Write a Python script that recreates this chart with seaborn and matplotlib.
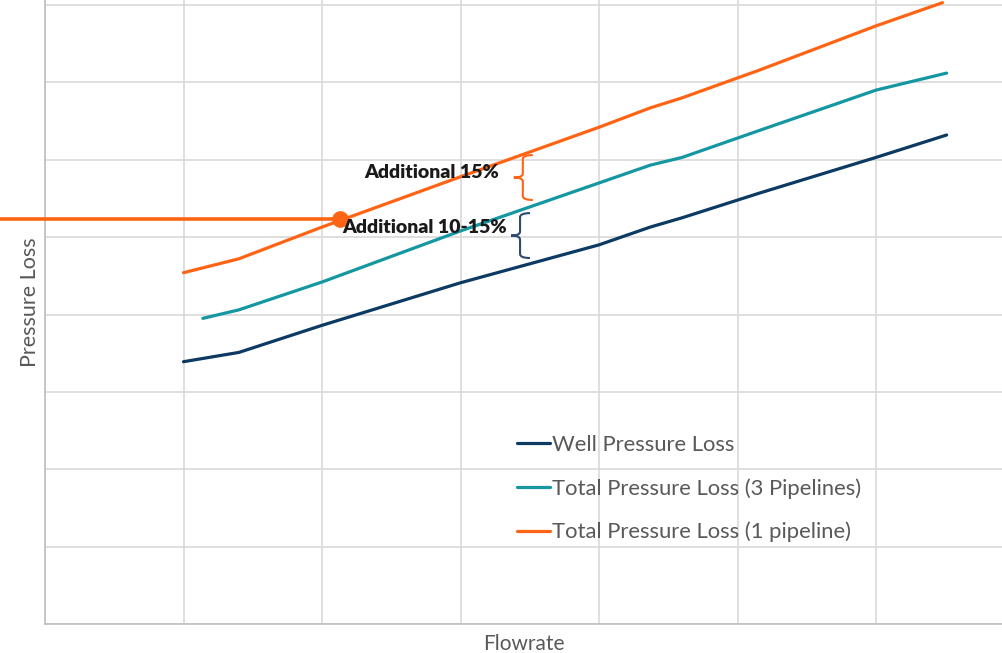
import numpy as np
import pandas as pd
import matplotlib
matplotlib.use("Agg")
import matplotlib.pyplot as plt
from matplotlib.path import Path
from matplotlib.patches import PathPatch
import seaborn as sns

# Flowrate / pressure-loss readings for each curve (arbitrary units)
well_x = [1.0, 1.4, 2.0, 3.0, 4.0, 4.37, 4.6, 5.16, 6.0, 6.51]
well_y = [3.39, 3.51, 3.86, 4.41, 4.90, 5.13, 5.25, 5.57, 6.03, 6.32]

pipes3_x = [1.14, 1.4, 2.0, 3.0, 4.0, 4.37, 4.6, 5.16, 6.0, 6.51]
pipes3_y = [3.95, 4.06, 4.42, 5.08, 5.70, 5.93, 6.03, 6.38, 6.90, 7.12]

pipe1_x = [1.0, 1.4, 2.0, 3.0, 4.0, 4.37, 4.6, 5.16, 6.0, 6.48]
pipe1_y = [4.54, 4.72, 5.13, 5.78, 6.42, 6.67, 6.80, 7.16, 7.73, 8.03]

series_names = [
    "Well Pressure Loss",
    "Total Pressure Loss (3 Pipelines)",
    "Total Pressure Loss (1 pipeline)",
]
series_colors = ["#0C3A63", "#1497A1", "#FF6414"]

# Operating point on the single-pipeline curve
op_x = 2.13
op_y = 5.23

# Bracketed margins between curves
brace_labels = ["Additional 15%", "Additional 10-15%"]
brace_label_x = [2.79, 2.74]
brace_label_y = [5.83, 5.13]
brace_x = [3.45, 3.43]
brace_top = [6.06, 5.31]
brace_bot = [5.48, 4.73]
brace_colors = ["#FF6414", "#2E4A6E"]

df = pd.concat([
    pd.DataFrame({"Flowrate": well_x, "Pressure Loss": well_y, "Series": series_names[0]}),
    pd.DataFrame({"Flowrate": pipes3_x, "Pressure Loss": pipes3_y, "Series": series_names[1]}),
    pd.DataFrame({"Flowrate": pipe1_x, "Pressure Loss": pipe1_y, "Series": series_names[2]}),
], ignore_index=True)

sns.set_theme(style="whitegrid")
plt.rcParams["font.family"] = ["Lato", "DejaVu Sans"]

W, H = 1003, 653
fig = plt.figure(figsize=(W / 100, H / 100), dpi=100)
ax = fig.add_axes([45 / W, 29 / H, 1 - 45 / W, 1 - 29 / H])

sns.lineplot(data=df, x="Flowrate", y="Pressure Loss", hue="Series",
             palette=dict(zip(series_names, series_colors)), hue_order=series_names,
             estimator=None, sort=False, linewidth=2.3, ax=ax, legend=True)

ax.set_xlim(0, 958 / 138.5)
ax.set_ylim(0, 8 + 5 / 77.375)
ax.set_xticks(np.arange(0, 7))
ax.set_yticks(np.arange(0, 9))
ax.tick_params(length=0, labelbottom=False, labelleft=False)
ax.grid(True, color="#D9D9D9", linewidth=1.2)
for s in ["top", "right"]:
    ax.spines[s].set_visible(False)
for s in ["left", "bottom"]:
    ax.spines[s].set_color("#BFBFBF")
    ax.spines[s].set_linewidth(1.2)

ax.set_xlabel("Flowrate", fontsize=15, color="#595959", labelpad=7)
ax.set_ylabel("Pressure Loss", fontsize=15.5, color="#595959")
ax.yaxis.set_label_coords(-5 / 958, (624 - 302) / 624)

# Reference line to the operating point
ax.plot([-45 / 138.5, op_x], [op_y, op_y], color="#FF6414", linewidth=2.6,
        clip_on=False, zorder=5, solid_capstyle="butt")
ax.plot([op_x], [op_y], "o", color="#FF6414", markersize=11, zorder=6, clip_on=False)


def draw_brace(ax, x, top, bot, color):
    sx, sy = 1 / 138.5, 1 / 77.375
    arm, notch, r = 10 * sx, 9 * sx, 4 * sy
    mid = (top + bot) / 2
    verts = [
        (x + arm, top), (x, top), (x, top - r),
        (x, mid + r), (x, mid), (x - notch, mid),
        (x, mid), (x, mid - r),
        (x, bot + r), (x, bot), (x + arm, bot),
    ]
    codes = [Path.MOVETO, Path.CURVE3, Path.CURVE3,
             Path.LINETO, Path.CURVE3, Path.CURVE3,
             Path.CURVE3, Path.CURVE3,
             Path.LINETO, Path.CURVE3, Path.CURVE3]
    ax.add_patch(PathPatch(Path(verts, codes), fill=False, edgecolor=color,
                           linewidth=1.5, zorder=4))


for bx, bt, bb, bc in zip(brace_x, brace_top, brace_bot, brace_colors):
    draw_brace(ax, bx, bt, bb, bc)

for lbl, lx, ly in zip(brace_labels, brace_label_x, brace_label_y):
    ax.text(lx, ly, lbl, fontsize=14, fontweight="heavy",
            color="#1A1A1A", ha="center", va="center", zorder=7)

handles, labels = ax.get_legend_handles_labels()
ax.legend(handles, labels, loc="upper left",
          bbox_to_anchor=(517 / W, 1 - 435 / H), bbox_transform=fig.transFigure,
          frameon=False, fontsize=15.8, labelcolor="#595959",
          handlelength=1.5, handletextpad=0.1, labelspacing=1.05, borderpad=0,
          borderaxespad=0)

fig.savefig("out.png", dpi=100)
